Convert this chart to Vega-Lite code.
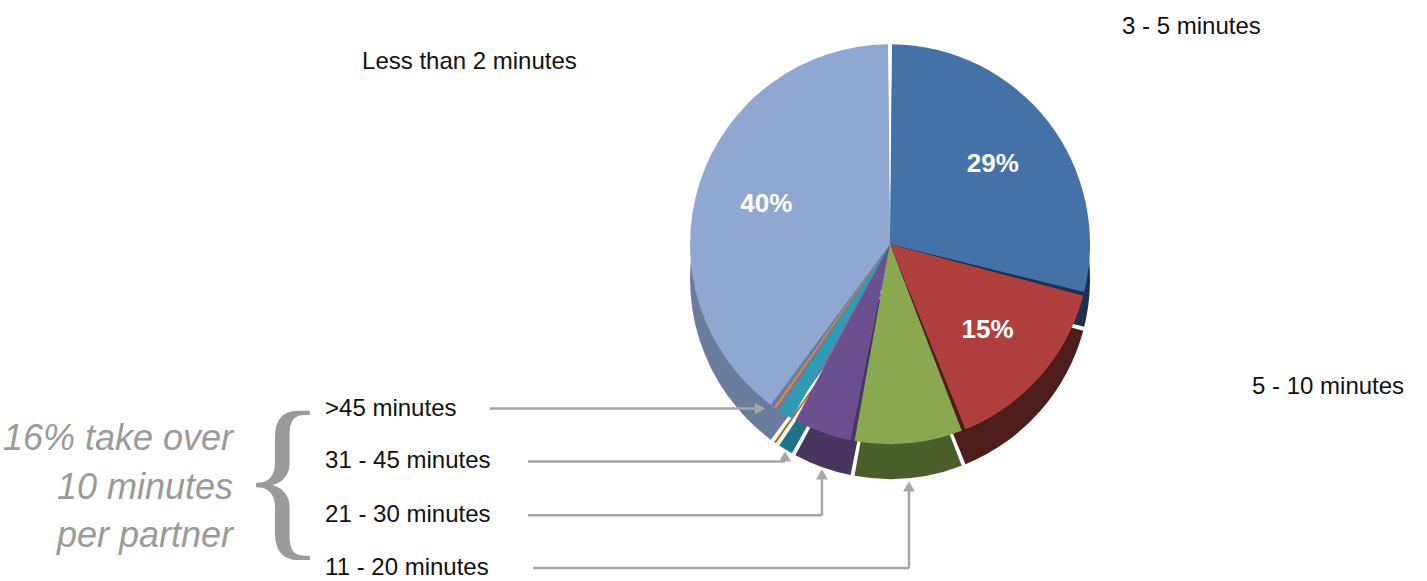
{
  "$schema": "https://vega.github.io/schema/vega-lite/v6.json",
  "width": 1427,
  "height": 581,
  "autosize": {"type": "fit", "contains": "padding"},
  "padding": 0,
  "background": "white",
  "config": {"view": {"stroke": null}},
  "datasets": {
    "slices": [
      {"cat": "3 - 5 minutes", "value": 29, "ord": 1, "pct": "29%"},
      {"cat": "5 - 10 minutes", "value": 15, "ord": 2, "pct": "15%"},
      {"cat": "11 - 20 minutes", "value": 9, "ord": 3, "pct": ""},
      {"cat": "21 - 30 minutes", "value": 5, "ord": 4, "pct": ""},
      {"cat": "31 - 45 minutes", "value": 1.5, "ord": 5, "pct": ""},
      {"cat": ">45 minutes", "value": 0.5, "ord": 6, "pct": ""},
      {"cat": "Less than 2 minutes", "value": 40, "ord": 7, "pct": "40%"}
    ],
    "arrows": [
      {"x": 34.34, "y": 70.57, "x2": 52.91, "y2": 70.57},
      {"x": 37.0, "y": 79.69, "x2": 55.01, "y2": 79.69},
      {"x": 37.0, "y": 88.98, "x2": 57.6, "y2": 88.98},
      {"x": 57.6, "y": 88.98, "x2": 57.6, "y2": 82.27},
      {"x": 37.35, "y": 98.11, "x2": 63.7, "y2": 98.11},
      {"x": 63.7, "y": 98.11, "x2": 63.7, "y2": 84.34}
    ],
    "heads": [
      {"x": 53.26, "y": 70.57, "dir": "right"},
      {"x": 55.01, "y": 78.83, "dir": "up"},
      {"x": 57.6, "y": 81.93, "dir": "up"},
      {"x": 63.7, "y": 83.99, "dir": "up"}
    ],
    "labels": [
      {"text": "Less than 2 minutes", "x": 25.37, "y": 10.67},
      {"text": "3 - 5 minutes", "x": 78.63, "y": 4.65},
      {"text": "5 - 10 minutes", "x": 87.74, "y": 66.78},
      {"text": ">45 minutes", "x": 22.78, "y": 70.57},
      {"text": "31 - 45 minutes", "x": 22.78, "y": 79.69},
      {"text": "21 - 30 minutes", "x": 22.78, "y": 88.98},
      {"text": "11 - 20 minutes", "x": 22.78, "y": 98.11}
    ],
    "notes": [
      {"text": "16% take over", "x": 16.33, "y": 75.9},
      {"text": "10 minutes", "x": 16.33, "y": 84.34},
      {"text": "per partner", "x": 16.33, "y": 92.6}
    ],
    "brace": [
      {"text": "{", "x": 19.83, "y": 83.3}
    ]
  },
  "layer": [
    {
      "data": {"name": "slices"},
      "mark": {"type": "arc", "outerRadius": 200, "padAngle": 0.02},
      "encoding": {
        "x": {"datum": 62.37, "type": "quantitative", "scale": {"domain": [0, 100]}, "axis": null},
        "y": {"datum": 48.19, "type": "quantitative", "scale": {"domain": [0, 100], "reverse": true}, "axis": null},
        "theta": {"field": "value", "type": "quantitative", "stack": true},
        "order": {"field": "ord", "type": "quantitative"},
        "color": {
          "field": "cat", "type": "nominal", "legend": null,
          "scale": {
            "domain": ["3 - 5 minutes", "5 - 10 minutes", "11 - 20 minutes", "21 - 30 minutes", "31 - 45 minutes", ">45 minutes", "Less than 2 minutes"],
            "range": ["#1d3050", "#4e1c1a", "#4a5e2a", "#47365f", "#1f7387", "#b86a20", "#6b7d9e"]
          }
        }
      }
    },
    {
      "data": {"name": "slices"},
      "mark": {"type": "arc", "outerRadius": 200, "padAngle": 0.02},
      "encoding": {
        "x": {"datum": 62.37, "type": "quantitative"},
        "y": {"datum": 42.17, "type": "quantitative"},
        "theta": {"field": "value", "type": "quantitative", "stack": true},
        "order": {"field": "ord", "type": "quantitative"},
        "color": {
          "field": "cat", "type": "nominal", "legend": null,
          "scale": {
            "domain": ["3 - 5 minutes", "5 - 10 minutes", "11 - 20 minutes", "21 - 30 minutes", "31 - 45 minutes", ">45 minutes", "Less than 2 minutes"],
            "range": ["#4471a8", "#b0403e", "#8aa84f", "#6b4f8f", "#2e9cb5", "#e3892f", "#8fa7d1"]
          }
        }
      }
    },
    {
      "data": {"name": "slices"},
      "mark": {"type": "text", "radius": 130, "font": "Liberation Sans", "fontSize": 26, "fontWeight": "bold", "fill": "white"},
      "encoding": {
        "x": {"datum": 62.37, "type": "quantitative"},
        "y": {"datum": 42.17, "type": "quantitative"},
        "theta": {"field": "value", "type": "quantitative", "stack": true},
        "order": {"field": "ord", "type": "quantitative"},
        "text": {"field": "pct"}
      }
    },
    {
      "data": {"name": "arrows"},
      "mark": {"type": "rule", "stroke": "#a6a6a6", "strokeWidth": 2.5},
      "encoding": {
        "x": {"field": "x", "type": "quantitative"},
        "y": {"field": "y", "type": "quantitative"},
        "x2": {"field": "x2"},
        "y2": {"field": "y2"}
      }
    },
    {
      "data": {"name": "heads"},
      "mark": {"type": "point", "filled": true, "color": "#a6a6a6", "size": 140, "opacity": 1},
      "encoding": {
        "x": {"field": "x", "type": "quantitative"},
        "y": {"field": "y", "type": "quantitative"},
        "shape": {"field": "dir", "type": "nominal", "legend": null, "scale": {"domain": ["right", "up"], "range": ["triangle-right", "triangle-up"]}}
      }
    },
    {
      "data": {"name": "labels"},
      "mark": {"type": "text", "align": "left", "baseline": "middle", "font": "Liberation Sans", "fontSize": 24, "fill": "#111111"},
      "encoding": {
        "x": {"field": "x", "type": "quantitative"},
        "y": {"field": "y", "type": "quantitative"},
        "text": {"field": "text"}
      }
    },
    {
      "data": {"name": "notes"},
      "mark": {"type": "text", "align": "right", "baseline": "middle", "font": "Liberation Sans", "fontSize": 36, "fontStyle": "italic", "fill": "#9a9a9a"},
      "encoding": {
        "x": {"field": "x", "type": "quantitative"},
        "y": {"field": "y", "type": "quantitative"},
        "text": {"field": "text"}
      }
    },
    {
      "data": {"name": "brace"},
      "mark": {"type": "text", "align": "center", "baseline": "middle", "font": "Liberation Serif", "fontSize": 180, "fill": "#9a9a9a"},
      "encoding": {
        "x": {"field": "x", "type": "quantitative"},
        "y": {"field": "y", "type": "quantitative"},
        "text": {"field": "text"}
      }
    }
  ],
  "resolve": {"scale": {"color": "independent"}}
}
